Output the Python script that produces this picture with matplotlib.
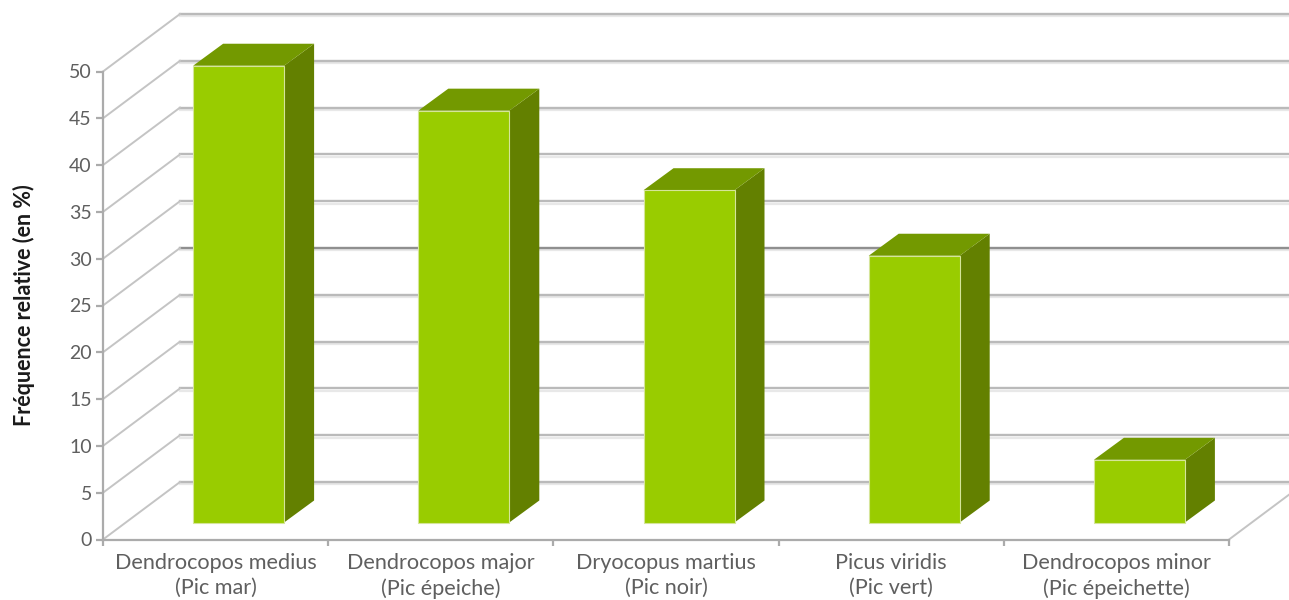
import matplotlib
matplotlib.use("Agg")
import matplotlib.pyplot as plt

plt.rcParams["font.family"] = ["Lato", "DejaVu Sans"]

species = ["Dendrocopos medius\n(Pic mar)", "Dendrocopos major\n(Pic épeiche)",
           "Dryocopus martius\n(Pic noir)", "Picus viridis\n(Pic vert)",
           "Dendrocopos minor\n(Pic épeichette)"]
frequency = [48.8, 44.0, 35.5, 28.5, 6.7]
yticks = list(range(0, 55, 5))
ylabel = "Fréquence relative (en %)"

W, H = 1289, 600
L, R, B, T = 103, 1229, 539.5, 71.5
fig = plt.figure(figsize=(W / 100, H / 100), dpi=100)
ax = fig.add_axes([L / W, 1 - B / H, (R - L) / W, (B - T) / H])
ax.set_xlim(0, 5)
ax.set_ylim(0, 50)

px = (R - L) / 5
py = (B - T) / 50
DX, DY = 77 / px, 57.5 / py          # depth of the wall
ox, oy = 23 / px, 17 / py            # front of bar relative to floor front
dx, dy = 30 / px, 22 / py            # depth of bar
bw = 91 / px
XMAX = (W + 20 - L) / px

# walls and gridlines
for v in yticks:
    col = "#8f8f8f" if v == 25 else "#bababa"
    ax.plot([DX, XMAX], [v + DY - 0.25, v + DY - 0.25], color="#e8e8e8", lw=1.6, clip_on=False, zorder=1)
    ax.plot([DX, XMAX], [v + DY, v + DY], color=col, lw=1.7, clip_on=False, zorder=2)
    ax.plot([0, DX], [v, v + DY], color="#c4c4c4", lw=1.4, clip_on=False, zorder=2)
ax.plot([5, 5 + DX], [0, DY], color="#c4c4c4", lw=1.4, clip_on=False, zorder=2)

# bars
for i, v in enumerate(frequency):
    x0 = i + 0.5 + ox - bw / 2
    x1 = x0 + bw
    y0, y1 = oy, oy + v
    ax.fill([x1, x1 + dx, x1 + dx, x1], [y0, y0 + dy, y1 + dy, y1], color="#638000", lw=0, zorder=3, clip_on=False)
    ax.fill([x0, x1, x1 + dx, x0 + dx], [y1, y1, y1 + dy, y1 + dy], color="#739900", lw=0, zorder=3, clip_on=False)
    ax.fill([x0, x1, x1, x0], [y0, y0, y1, y1], facecolor="#99cc00", edgecolor="#d5e59a", lw=0.8, zorder=4, clip_on=False)

# axes
for s in ("top", "right"):
    ax.spines[s].set_visible(False)
for s in ("left", "bottom"):
    ax.spines[s].set_color("#ababab")
    ax.spines[s].set_linewidth(1.6)
    ax.spines[s].set_zorder(5)
ax.patch.set_alpha(0)
ax.set_yticks(yticks)
ax.set_xticks(range(6))
ax.set_xticklabels([])
ax.set_xticks([i + 0.5 for i in range(5)], minor=True)
ax.set_xticklabels(species, minor=True, fontsize=15.6, color="#5f5f5f", linespacing=1.3)
ax.tick_params(axis="x", which="minor", length=0, pad=10)
ax.tick_params(axis="x", which="major", length=4, color="#ababab", width=1.6)
ax.tick_params(axis="y", length=5, color="#ababab", width=1.6, labelsize=14, labelcolor="#5f5f5f", pad=3)
fig.text(24 / W, 1 - 305 / H, ylabel, rotation=90, ha="center", va="center",
         fontsize=15.5, fontweight="bold", color="#1a1a1a")
fig.savefig("out.png", dpi=100, facecolor="white")
